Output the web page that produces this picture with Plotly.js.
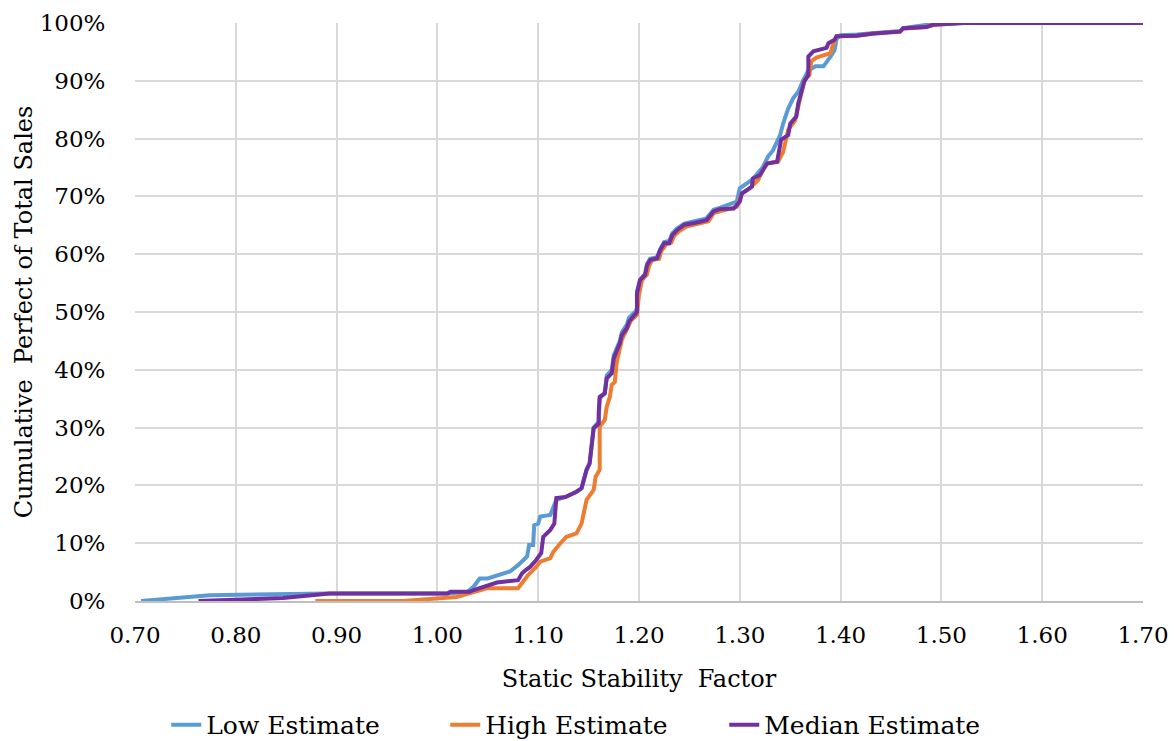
<!DOCTYPE html>
<html>
<head>
<meta charset="utf-8">
<script src="https://cdn.plot.ly/plotly-3.0.1.min.js"></script>
<style>html,body{margin:0;padding:0;background:#fff;}#chart{width:1174px;height:741px;}</style>
</head>
<body>
<div id="chart"></div>
<script>
const seriesNames = ["Low Estimate", "High Estimate", "Median Estimate"];

const lowX = [0.706,0.774,0.89,1.01,1.03,1.036,1.042,1.05,1.072,1.080,1.089,1.091,1.095,1.096,1.100,1.102,1.112,1.115,1.118,1.127,1.138,1.143,1.148,1.151,1.155,1.160,1.161,1.166,1.168,1.173,1.175,1.181,1.183,1.188,1.190,1.196,1.198,1.198,1.201,1.206,1.208,1.211,1.218,1.221,1.225,1.230,1.233,1.238,1.245,1.255,1.267,1.274,1.280,1.297,1.300,1.309,1.313,1.323,1.328,1.333,1.340,1.343,1.348,1.353,1.358,1.363,1.368,1.375,1.383,1.390,1.394,1.396,1.400,1.416,1.433,1.459,1.462,1.480,1.490,1.515,1.70];
const lowY = [0,0.010,0.013,0.013,0.016,0.025,0.039,0.039,0.051,0.062,0.077,0.097,0.097,0.131,0.134,0.146,0.149,0.163,0.175,0.18,0.189,0.195,0.227,0.238,0.30,0.31,0.35,0.36,0.39,0.40,0.425,0.45,0.465,0.478,0.49,0.50,0.505,0.535,0.556,0.566,0.583,0.592,0.595,0.609,0.621,0.623,0.636,0.645,0.653,0.657,0.662,0.677,0.680,0.691,0.714,0.725,0.73,0.751,0.769,0.78,0.806,0.826,0.852,0.87,0.881,0.901,0.918,0.925,0.925,0.942,0.953,0.973,0.979,0.98,0.983,0.986,0.991,0.995,0.998,1.0,1.0];

const highX = [0.879,0.966,1.019,1.032,1.049,1.080,1.085,1.090,1.098,1.102,1.112,1.115,1.122,1.128,1.138,1.143,1.148,1.155,1.157,1.161,1.161,1.166,1.168,1.171,1.173,1.176,1.178,1.183,1.188,1.192,1.198,1.200,1.203,1.208,1.210,1.213,1.220,1.222,1.227,1.232,1.235,1.240,1.247,1.257,1.269,1.274,1.282,1.297,1.302,1.310,1.318,1.322,1.327,1.338,1.343,1.348,1.355,1.360,1.364,1.369,1.371,1.376,1.390,1.392,1.396,1.416,1.433,1.459,1.462,1.485,1.492,1.52,1.70];
const highY = [0,0,0.007,0.014,0.022,0.022,0.033,0.045,0.059,0.068,0.074,0.085,0.10,0.111,0.117,0.134,0.175,0.192,0.215,0.227,0.302,0.313,0.336,0.353,0.374,0.379,0.414,0.452,0.47,0.485,0.495,0.53,0.555,0.565,0.58,0.59,0.592,0.605,0.617,0.62,0.632,0.640,0.648,0.652,0.657,0.671,0.675,0.682,0.705,0.714,0.728,0.743,0.757,0.76,0.777,0.815,0.832,0.873,0.901,0.91,0.934,0.94,0.948,0.96,0.977,0.978,0.982,0.985,0.99,0.993,0.997,1.0,1.0];

const medX = [0.763,0.847,0.893,1.010,1.013,1.032,1.036,1.042,1.059,1.080,1.084,1.088,1.092,1.098,1.103,1.105,1.112,1.116,1.118,1.127,1.138,1.143,1.148,1.151,1.155,1.160,1.160,1.161,1.166,1.168,1.173,1.175,1.181,1.183,1.188,1.190,1.196,1.198,1.198,1.201,1.206,1.208,1.211,1.218,1.221,1.225,1.230,1.233,1.238,1.245,1.255,1.267,1.274,1.280,1.294,1.300,1.302,1.312,1.313,1.320,1.327,1.337,1.341,1.348,1.350,1.356,1.358,1.361,1.364,1.368,1.368,1.373,1.386,1.388,1.394,1.396,1.416,1.433,1.459,1.462,1.485,1.492,1.523,1.70];
const medY = [0,0.005,0.013,0.013,0.016,0.016,0.019,0.022,0.032,0.036,0.048,0.054,0.059,0.071,0.083,0.111,0.123,0.134,0.178,0.18,0.189,0.195,0.227,0.238,0.299,0.307,0.325,0.353,0.359,0.385,0.394,0.42,0.446,0.46,0.472,0.483,0.495,0.50,0.532,0.555,0.564,0.581,0.59,0.593,0.607,0.619,0.619,0.633,0.642,0.651,0.654,0.659,0.674,0.678,0.679,0.691,0.705,0.717,0.731,0.737,0.757,0.76,0.798,0.806,0.826,0.838,0.861,0.878,0.899,0.91,0.942,0.951,0.957,0.965,0.971,0.977,0.978,0.982,0.985,0.991,0.993,0.997,1.0,1.0];

const colors = ["#5B9BD5", "#ED7D31", "#7030A0"];
const font = "DejaVu Serif";

const traces = [
  {x: lowX, y: lowY, name: seriesNames[0], type: "scatter", mode: "lines", line: {color: colors[0], width: 4}},
  {x: highX, y: highY, name: seriesNames[1], type: "scatter", mode: "lines", line: {color: colors[1], width: 4}},
  {x: medX, y: medY, name: seriesNames[2], type: "scatter", mode: "lines", line: {color: colors[2], width: 4}}
];

const layout = {
  width: 1174, height: 741,
  margin: {l: 135, r: 31, t: 23, b: 140, autoexpand: false},
  paper_bgcolor: "#fff", plot_bgcolor: "#fff",
  font: {family: font, size: 23, color: "#000"},
  showlegend: true,
  legend: {orientation: "h", x: 0.031, xanchor: "left", y: -0.2145, yanchor: "middle",
           entrywidth: 234, entrywidthmode: "pixels",
           font: {family: font, size: 25, color: "#000"}, tracegroupgap: 0},
  xaxis: {
    range: [0.70, 1.70], dtick: 0.1, tick0: 0.7, tickformat: ".2f", automargin: false,
    showgrid: true, gridcolor: "#d9d9d9", gridwidth: 2, zeroline: false,
    showline: true, linecolor: "#bfbfbf", linewidth: 2,
    ticks: "outside", ticklen: 12, tickcolor: "rgba(0,0,0,0)",
    tickfont: {family: font, size: 23},
    title: {text: "Static Stability  Factor", font: {family: font, size: 24}, standoff: 24}
  },
  yaxis: {
    range: [0, 1], dtick: 0.1, tickformat: ".0%", automargin: false,
    showgrid: true, gridcolor: "#d9d9d9", gridwidth: 2, zeroline: false,
    showline: false,
    ticks: "outside", ticklen: 24, tickcolor: "rgba(0,0,0,0)",
    tickfont: {family: font, size: 23},
    title: {text: "Cumulative  Perfect of Total Sales", font: {family: font, size: 24}, standoff: 0}
  }
};

Plotly.newPlot("chart", traces, layout, {displayModeBar: false, staticPlot: true});
</script>
</body>
</html>
